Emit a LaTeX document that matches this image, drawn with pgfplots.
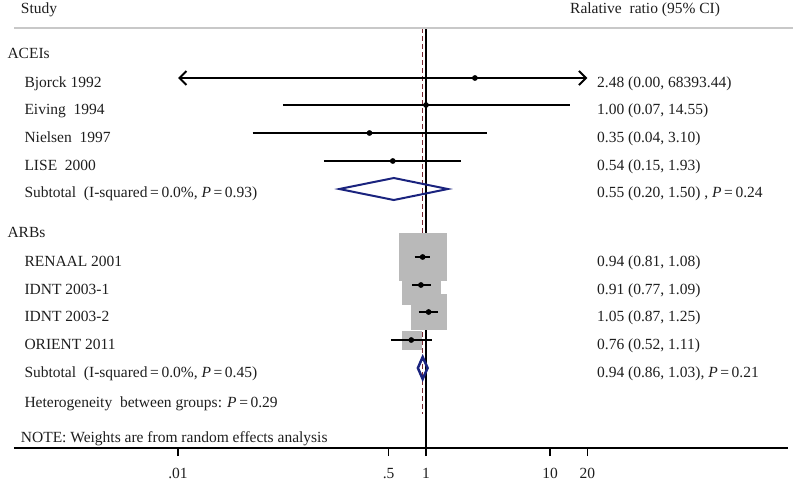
\documentclass[border=0pt]{standalone}
\usepackage{pgfplots}
\pgfplotsset{compat=1.18}
\usepackage{fontspec}
\setmainfont{Liberation Serif}
\usetikzlibrary{arrows.meta}
\definecolor{boxgray}{RGB}{185,185,185}
\definecolor{dnavy}{RGB}{26,35,126}
\definecolor{maroonc}{RGB}{120,40,50}
\definecolor{linegray}{RGB}{200,200,200}
\definecolor{txt}{RGB}{30,30,30}
\begin{document}
\fontsize{15.5}{18}\selectfont
\begin{tikzpicture}
\useasboundingbox (0,0) rectangle (799pt,-485pt);
\begin{axis}[
  at={(14pt,-448pt)}, anchor=south west,
  scale only axis, width=774pt, height=448pt,
  xmode=log, xmin=4.757e-4, xmax=830.5,
  ymin=-448, ymax=0,
  axis x line=bottom, axis y line=none,
  x axis line style={-, line width=1.5pt, black},
  xtick={0.01,0.5,1,10,20}, xticklabels={.01,.5,1,10,20},
  minor xtick={},
  tick align=outside, major tick length=8pt,
  xtick style={line width=1.3pt, black},
  clip=false,
  xticklabel style={font=\fontsize{15.5}{18}\selectfont, text=txt, yshift=-7pt},
]
% reference lines
\addplot[black, line width=2pt] coordinates {(1,-28) (1,-448)};
\addplot[maroonc, line width=1.6pt, dash pattern=on 5pt off 3pt] coordinates {(0.94,-28) (0.94,-414)};
% weight boxes
\addplot[draw=none, fill=boxgray] coordinates {(0.6404,-265.5) (1.314,-265.5) (1.314,-304.5) (0.6404,-304.5)} -- cycle;
\addplot[draw=none, fill=boxgray] coordinates {(0.6091,-233) (1.485,-233) (1.485,-281) (0.6091,-281)} -- cycle;
\addplot[draw=none, fill=boxgray] coordinates {(0.7528,-293.7) (1.485,-293.7) (1.485,-330.3) (0.7528,-330.3)} -- cycle;
\addplot[draw=none, fill=boxgray] coordinates {(0.6404,-330.5) (0.9232,-330.5) (0.9232,-350) (0.6404,-350)} -- cycle;
% confidence intervals
\addplot[black, line width=2pt, {Straight Barb[length=7pt,width=14pt]}-{Straight Barb[length=7pt,width=14pt]}] coordinates {(0.01,-78) (20,-78)};
\addplot[black, line width=2pt] coordinates {(0.07,-105) (14.55,-105)};
\addplot[black, line width=2pt] coordinates {(0.04,-133) (3.10,-133)};
\addplot[black, line width=2pt] coordinates {(0.15,-161) (1.93,-161)};
\addplot[black, line width=2pt] coordinates {(0.81,-257) (1.08,-257)};
\addplot[black, line width=2pt] coordinates {(0.77,-285) (1.09,-285)};
\addplot[black, line width=2pt] coordinates {(0.87,-312) (1.25,-312)};
\addplot[black, line width=2pt] coordinates {(0.52,-340) (1.11,-340)};
% point estimates
\addplot[only marks, mark=*, mark size=2.6pt, black] coordinates {(2.48,-78) (1.00,-105) (0.35,-133) (0.54,-161) (0.94,-257) (0.91,-285) (1.05,-312) (0.76,-340)};
% subtotal diamonds
\addplot[dnavy, line width=2pt] coordinates {(0.20,-189) (0.55,-178) (1.50,-189) (0.55,-200)} -- cycle;
\addplot[dnavy, line width=2.5pt] coordinates {(0.86,-368) (0.94,-357) (1.03,-368) (0.94,-379)} -- cycle;
\end{axis}
\begin{scope}[x=1pt,y=-1pt, every node/.style={inner sep=0pt, anchor=base west, text=txt}]
\draw[linegray, line width=1.5pt] (14,28) -- (793,28);
\node at (20.7,13.5) {Study};
\node at (570,13.5) {Ralative\ \ ratio (95\% CI)};
\node at (7.3,58) {ACEIs};
\node at (24.3,87) {Bjorck 1992};
\node at (24.3,114) {Eiving\ \ 1994};
\node at (24.3,142) {Nielsen\ \ 1997};
\node at (24.3,170) {LISE\ \ 2000};
\node at (24.3,197) {Subtotal\ \ (I-squared\,=\,0.0\%, \textit{P}\,=\,0.93)};
\node at (7.3,237) {ARBs};
\node at (24.3,266) {RENAAL 2001};
\node at (24.3,294) {IDNT 2003-1};
\node at (24.3,321) {IDNT 2003-2};
\node at (24.3,349) {ORIENT 2011};
\node at (24.3,377) {Subtotal\ \ (I-squared\,=\,0.0\%, \textit{P}\,=\,0.45)};
\node at (24.3,407) {Heterogeneity\ \ between groups: \textit{P}\,=\,0.29};
\node at (20.7,442) {NOTE: Weights are from random effects analysis};
\node at (597,87) {2.48 (0.00, 68393.44)};
\node at (597,114) {1.00 (0.07, 14.55)};
\node at (597,142) {0.35 (0.04, 3.10)};
\node at (597,170) {0.54 (0.15, 1.93)};
\node at (597,197) {0.55 (0.20, 1.50)\ , \textit{P}\,=\,0.24};
\node at (597,266) {0.94 (0.81, 1.08)};
\node at (597,294) {0.91 (0.77, 1.09)};
\node at (597,321) {1.05 (0.87, 1.25)};
\node at (597,349) {0.76 (0.52, 1.11)};
\node at (597,377) {0.94 (0.86, 1.03), \textit{P}\,=\,0.21};
\end{scope}
\end{tikzpicture}
\end{document}
